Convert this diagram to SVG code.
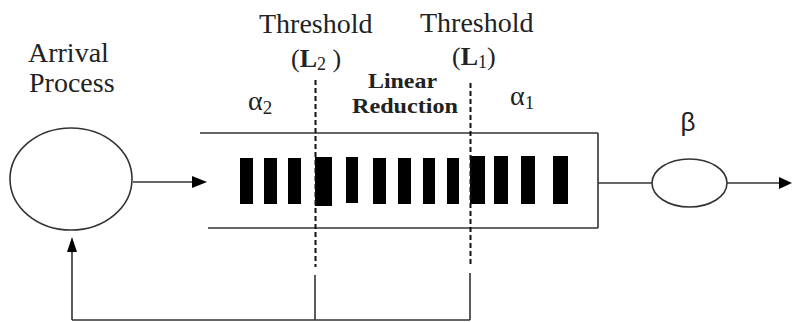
<svg xmlns="http://www.w3.org/2000/svg" width="792" height="322" viewBox="0 0 792 322">
<style>
.ln{stroke:#333;stroke-width:1.6;fill:none}
.dash{stroke:#111;stroke-width:2;stroke-dasharray:5,3;fill:none}
.bar{fill:#000}
</style>
<rect width="792" height="322" fill="#fff"/>
<g id="arrival">
<ellipse cx="71" cy="179" rx="61" ry="51" class="ln"/>
<text font-family="Liberation Serif, serif" fill="#222" x="28" y="62" font-size="28">Arrival</text>
<text font-family="Liberation Serif, serif" fill="#222" x="29" y="92" font-size="28">Process</text>
</g>
<g id="queue">
<line x1="200" y1="133" x2="598" y2="133" class="ln"/>
<line x1="208" y1="228" x2="598" y2="228" class="ln"/>
<line x1="598" y1="133" x2="598" y2="228" class="ln"/>
<rect class="bar" x="240" y="158" width="13" height="46"/>
<rect class="bar" x="264" y="158" width="13" height="46"/>
<rect class="bar" x="288" y="158" width="13" height="46"/>
<rect class="bar" x="315" y="157" width="17" height="49"/>
<rect class="bar" x="346" y="157" width="12" height="46"/>
<rect class="bar" x="373" y="158" width="13" height="46"/>
<rect class="bar" x="398" y="158" width="13" height="46"/>
<rect class="bar" x="423" y="158" width="12" height="46"/>
<rect class="bar" x="447" y="158" width="12" height="46"/>
<rect class="bar" x="470" y="156" width="15" height="48"/>
<rect class="bar" x="494" y="156" width="14" height="48"/>
<rect class="bar" x="521" y="156" width="14" height="48"/>
<rect class="bar" x="553" y="156" width="15" height="48"/>
<text font-family="Liberation Serif, serif" fill="#222" x="248" y="110" font-size="28">α<tspan font-size="19" dy="4">2</tspan></text>
<text font-family="Liberation Serif, serif" fill="#222" x="368" y="88" font-size="22" font-weight="bold" textLength="69" lengthAdjust="spacingAndGlyphs">Linear</text>
<text font-family="Liberation Serif, serif" fill="#222" x="352" y="113" font-size="22" font-weight="bold" textLength="106" lengthAdjust="spacingAndGlyphs">Reduction</text>
<text font-family="Liberation Serif, serif" fill="#222" x="510" y="105" font-size="28">α<tspan font-size="19" dy="4">1</tspan></text>
</g>
<g id="threshold-L2">
<text font-family="Liberation Serif, serif" fill="#222" x="259" y="33" font-size="28">Threshold</text>
<text font-family="Liberation Serif, serif" fill="#222" x="291" y="67" font-size="26">(<tspan font-weight="bold">L</tspan><tspan font-size="18" dy="3">2</tspan><tspan dy="-3"> )</tspan></text>
<line x1="315.5" y1="80" x2="315.5" y2="267" class="dash"/>
</g>
<g id="threshold-L1">
<text font-family="Liberation Serif, serif" fill="#222" x="420" y="32" font-size="28">Threshold</text>
<text font-family="Liberation Serif, serif" fill="#222" x="452" y="65" font-size="26">(<tspan font-weight="bold">L</tspan><tspan font-size="18" dy="3">1</tspan><tspan dy="-3">)</tspan></text>
<line x1="470.5" y1="83" x2="470.5" y2="267" class="dash"/>
</g>
<g id="server">
<ellipse cx="689.5" cy="183" rx="37.5" ry="24" class="ln"/>
<text x="688" y="131" font-size="26" text-anchor="middle" font-family="Liberation Sans, Arial, sans-serif" fill="#222">β</text>
</g>
<g id="connectors">
<line x1="133" y1="182" x2="193" y2="182" class="ln"/>
<polygon points="192,176 207,182 192,188" fill="#000"/>
<line x1="598" y1="183" x2="652" y2="183" class="ln"/>
<line x1="727" y1="183" x2="780" y2="183" class="ln" stroke="#000"/>
<polygon points="779,177 792,183 779,189" fill="#000"/>
<line x1="315" y1="275" x2="315" y2="320" class="ln"/>
<line x1="470" y1="273" x2="470" y2="320" class="ln"/>
<line x1="72" y1="320" x2="470" y2="320" class="ln"/>
<line x1="72" y1="320" x2="72" y2="250" class="ln"/>
<polygon points="67,252 72,237 77,252" fill="#000"/>
</g>
</svg>
